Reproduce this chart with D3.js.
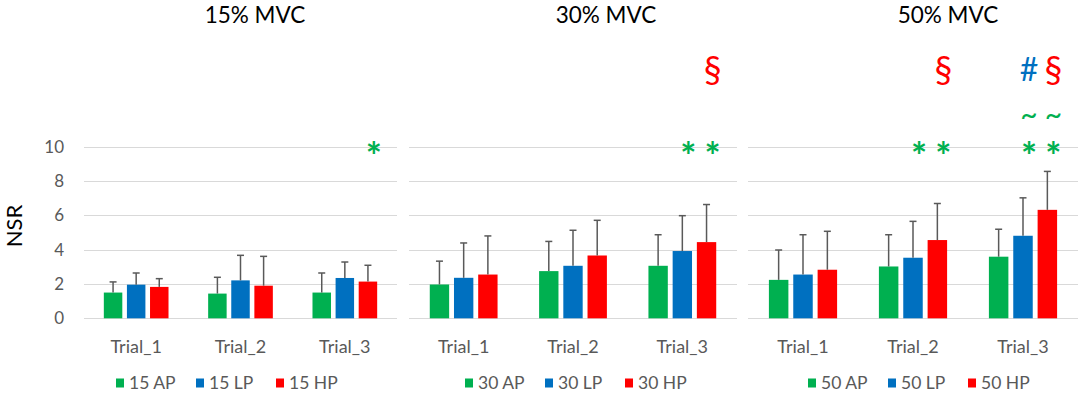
<!DOCTYPE html>
<html>
<head>
<meta charset="utf-8">
<script src="https://cdn.jsdelivr.net/npm/d3@7"></script>
<style>
  body { margin: 0; background: #fff; }
  svg { font-family: Lato, "Open Sans", sans-serif; }
</style>
</head>
<body>
<svg id="chart" width="1084" height="395"></svg>
<script>
// data
var trials = ["Trial_1", "Trial_2", "Trial_3"];
var panelTitles = ["15% MVC", "30% MVC", "50% MVC"];
var legend15 = ["15 AP", "15 LP", "15 HP"];
var legend30 = ["30 AP", "30 LP", "30 HP"];
var legend50 = ["50 AP", "50 LP", "50 HP"];
var yTicks = [0, 2, 4, 6, 8, 10];

// means, one array per series (Trial_1..3)
var ap15 = [1.50, 1.44, 1.50], lp15 = [1.96, 2.21, 2.35], hp15 = [1.83, 1.90, 2.14];
var ap30 = [1.97, 2.75, 3.06], lp30 = [2.36, 3.06, 3.92], hp30 = [2.55, 3.66, 4.44];
var ap50 = [2.24, 3.02, 3.59], lp50 = [2.55, 3.53, 4.81], hp50 = [2.83, 4.56, 6.32];
// standard deviations (upper error bars)
var ap15Sd = [0.62, 0.95, 1.14], lp15Sd = [0.68, 1.46, 0.93], hp15Sd = [0.48, 1.71, 0.95];
var ap30Sd = [1.36, 1.73, 1.81], lp30Sd = [2.03, 2.07, 2.06], hp30Sd = [2.25, 2.05, 2.19];
var ap50Sd = [1.74, 1.85, 1.60], lp50Sd = [2.32, 2.12, 2.21], hp50Sd = [2.24, 2.13, 2.24];

// significance marks: panel, trial, series, level (NSR units), symbol
var marks = [
  {p: 0, t: 2, s: 2, level: 10, sym: "*"},
  {p: 1, t: 2, s: 1, level: 10, sym: "*"},
  {p: 1, t: 2, s: 2, level: 10, sym: "*"},
  {p: 1, t: 2, s: 2, level: 14.5, sym: "§"},
  {p: 2, t: 1, s: 1, level: 10, sym: "*"},
  {p: 2, t: 1, s: 2, level: 10, sym: "*"},
  {p: 2, t: 1, s: 2, level: 14.5, sym: "§"},
  {p: 2, t: 2, s: 1, level: 10, sym: "*"},
  {p: 2, t: 2, s: 2, level: 10, sym: "*"},
  {p: 2, t: 2, s: 1, level: 11.8, sym: "~"},
  {p: 2, t: 2, s: 2, level: 11.8, sym: "~"},
  {p: 2, t: 2, s: 1, level: 14.5, sym: "#"},
  {p: 2, t: 2, s: 2, level: 14.5, sym: "§"}
];

var colors = ["#00B050", "#0070C0", "#FF0000"];
var symColor = {"*": "#00B050", "~": "#00B050", "#": "#0070C0", "§": "#FF0000"};
var symSize = {"*": 38, "~": 30, "#": 32, "§": 36};
var symDy = {"*": "0.62em", "~": "0.3em", "#": "0.36em", "§": "0.36em"};

var panels = [
  {title: panelTitles[0], names: legend15, means: [ap15, lp15, hp15], sds: [ap15Sd, lp15Sd, hp15Sd], x0: 84, x1: 397, titleX: 255, legendX: 116},
  {title: panelTitles[1], names: legend30, means: [ap30, lp30, hp30], sds: [ap30Sd, lp30Sd, hp30Sd], x0: 409, x1: 737, titleX: 606, legendX: 465},
  {title: panelTitles[2], names: legend50, means: [ap50, lp50, hp50], sds: [ap50Sd, lp50Sd, hp50Sd], x0: 748, x1: 1078, titleX: 948, legendX: 808}
];

var svg = d3.select("#chart");

var y = d3.scaleLinear()
  .domain([0, 10])
  .range([318.3, 146.7]);

// y axis (only left panel)
svg.append("g")
  .selectAll("text")
  .data(yTicks)
  .enter().append("text")
    .attr("x", 64)
    .attr("y", function(d) { return y(d); })
    .attr("dy", "0.35em")
    .attr("text-anchor", "end")
    .attr("font-size", 17)
    .attr("fill", "#595959")
    .text(function(d) { return d; });

svg.append("text")
  .attr("transform", "translate(22,226) rotate(-90)")
  .attr("text-anchor", "middle")
  .attr("font-size", 22)
  .attr("fill", "#000")
  .text("NSR");

panels.forEach(function(pn, pi) {
  var x0 = d3.scaleBand()
    .domain(trials)
    .range([pn.x0, pn.x1])
    .paddingInner(0.38)
    .paddingOuter(0.19);

  var x1 = d3.scaleBand()
    .domain([0, 1, 2])
    .range([0, x0.bandwidth()])
    .paddingInner(0.2)
    .paddingOuter(0);

  var g = svg.append("g");

  // gridlines
  g.append("g")
    .selectAll("line")
    .data(yTicks)
    .enter().append("line")
      .attr("x1", pn.x0)
      .attr("x2", pn.x1)
      .attr("y1", function(d) { return Math.round(y(d)) + 0.5; })
      .attr("y2", function(d) { return Math.round(y(d)) + 0.5; })
      .attr("stroke", "#d9d9d9")
      .attr("stroke-width", 1);

  // title
  g.append("text")
    .attr("x", pn.titleX)
    .attr("y", 23)
    .attr("text-anchor", "middle")
    .attr("font-size", 22.5)
    .attr("fill", "#000")
    .text(pn.title);

  // category labels
  g.append("g")
    .selectAll("text")
    .data(trials)
    .enter().append("text")
      .attr("x", function(d) { return x0(d) + x0.bandwidth() / 2; })
      .attr("y", 353)
      .attr("text-anchor", "middle")
      .attr("font-size", 18)
      .attr("fill", "#595959")
      .text(function(d) { return d; });

  var rows = [];
  trials.forEach(function(t, ti) {
    for (var s = 0; s < 3; s++) {
      rows.push({trial: t, s: s, mean: pn.means[s][ti], sd: pn.sds[s][ti]});
    }
  });

  // bars
  g.append("g")
    .selectAll("rect")
    .data(rows)
    .enter().append("rect")
      .attr("x", function(d) { return x0(d.trial) + x1(d.s); })
      .attr("y", function(d) { return y(d.mean); })
      .attr("width", x1.bandwidth())
      .attr("height", function(d) { return y(0) - y(d.mean); })
      .attr("fill", function(d) { return colors[d.s]; });

  // error bars
  var eb = g.append("g")
    .selectAll("g")
    .data(rows)
    .enter().append("g")
      .attr("stroke", "#595959")
      .attr("stroke-width", 1.5);

  eb.append("line")
    .attr("x1", function(d) { return x0(d.trial) + x1(d.s) + x1.bandwidth() / 2; })
    .attr("x2", function(d) { return x0(d.trial) + x1(d.s) + x1.bandwidth() / 2; })
    .attr("y1", function(d) { return y(d.mean); })
    .attr("y2", function(d) { return y(d.mean + d.sd); });

  eb.append("line")
    .attr("x1", function(d) { return x0(d.trial) + x1(d.s) + x1.bandwidth() / 2 - 3.5; })
    .attr("x2", function(d) { return x0(d.trial) + x1(d.s) + x1.bandwidth() / 2 + 3.5; })
    .attr("y1", function(d) { return y(d.mean + d.sd); })
    .attr("y2", function(d) { return y(d.mean + d.sd); });

  // significance symbols
  g.append("g")
    .selectAll("text")
    .data(marks.filter(function(m) { return m.p == pi; }))
    .enter().append("text")
      .attr("x", function(d) { return x0(trials[d.t]) + x1(d.s) + x1.bandwidth() / 2 + 6; })
      .attr("y", function(d) { return y(d.level); })
      .attr("dy", function(d) { return symDy[d.sym]; })
      .attr("text-anchor", "middle")
      .attr("font-size", function(d) { return symSize[d.sym]; })
      .attr("font-weight", function(d) { return d.sym == "*" ? "bold" : "normal"; })
      .attr("fill", function(d) { return symColor[d.sym]; })
      .text(function(d) { return d.sym; });

  // legend
  var lg = g.append("g")
    .selectAll("g")
    .data(pn.names)
    .enter().append("g")
      .attr("transform", function(d, i) { return "translate(" + (pn.legendX + i * 80) + ",383)"; });

  lg.append("rect")
    .attr("x", 0)
    .attr("y", -4.5)
    .attr("width", 8)
    .attr("height", 9)
    .attr("fill", function(d, i) { return colors[i]; });

  lg.append("text")
    .attr("x", 13)
    .attr("y", 0)
    .attr("dy", "0.36em")
    .attr("font-size", 17.5)
    .attr("fill", "#595959")
    .text(function(d) { return d; });
});
</script>
</body>
</html>
